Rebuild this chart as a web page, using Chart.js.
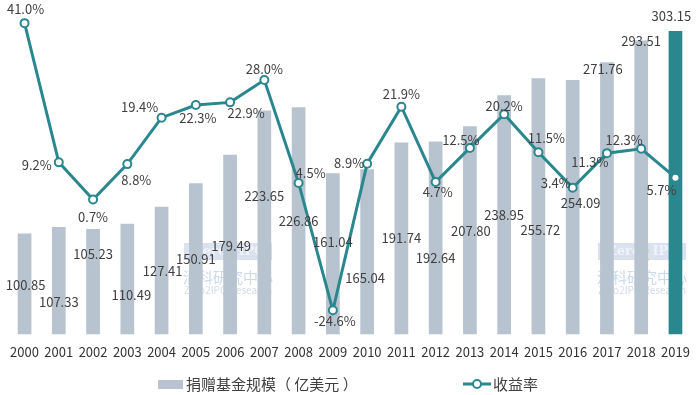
<!DOCTYPE html>
<html>
<head>
<meta charset="utf-8">
<script src="https://cdn.jsdelivr.net/npm/chart.js@4.4.1/dist/chart.umd.min.js"></script>
<style>
  html, body { margin: 0; padding: 0; background: #fff; }
</style>
</head>
<body>
<canvas id="endowChart" width="700" height="395"></canvas>
<script>
const years = ["2000", "2001", "2002", "2003", "2004", "2005", "2006", "2007", "2008", "2009",
  "2010", "2011", "2012", "2013", "2014", "2015", "2016", "2017", "2018", "2019"];

const fundSize = [100.85, 107.33, 105.23, 110.49, 127.41, 150.91, 179.49, 223.65, 226.86, 161.04,
  165.04, 191.74, 192.64, 207.80, 238.95, 255.72, 254.09, 271.76, 293.51, 303.15];

const returnRate = [41.0, 9.2, 0.7, 8.8, 19.4, 22.3, 22.9, 28.0, 4.5, -24.6,
  8.9, 21.9, 4.7, 12.5, 20.2, 11.5, 3.4, 11.3, 12.3, 5.7];

// where the bar value labels sit (in bar-axis units) - they are scattered in the original
const barLabelAt = [49, 32, 80, 39, 63, 75, 88, 138, 113, 92,
  56, 96, 76, 103, 119, 104, 131, 265, 293, 318];
const barLabelDx = [1, 0, 0, 4, 1, 0, 1, 0, 0, 0, -2, 0, 0, 1, 0, 2, 8, -4, 0, -4];

// offsets of the percentage labels from their points
const rateLabelDx = [1, -22, 0, 9, -22, 2, 16, 0, 12, 2, -18, 0, 2, -9, 0, 8, -17, -17, -17, -14];
const rateLabelDy = [-14, 3, 18, 16, -11, 13, 11, -11, -10, 11, -1, -13, 10, -8, -8, -14, -5, 9, -9, 12];

const barGrey = "#b8c3d0";
const teal = "#2a878e";
const textColor = "#404040";
const fontFamily = "'Noto Sans CJK SC', 'Noto Sans', sans-serif";

const barColours = years.map((y, i) => (i === years.length - 1 ? teal : barGrey));

const watermark = {
  id: "watermark",
  beforeDatasetsDraw(chart) {
    const ctx = chart.ctx;
    ctx.save();
    [228, 642].forEach((cx) => {
      ctx.textAlign = "center";
      ctx.textBaseline = "middle";
      ctx.fillStyle = "rgba(150,170,210,0.35)";
      ctx.fillRect(cx - 44, 243, 88, 17);
      ctx.fillStyle = "rgba(255,255,255,0.6)";
      ctx.font = "bold 13px 'DejaVu Serif', serif";
      ctx.fillText("Zero", cx - 18, 252);
      ctx.fillText("IPO", cx + 24, 252);
      ctx.fillStyle = "rgba(225,195,110,0.45)";
      ctx.font = "bold 20px 'DejaVu Sans', sans-serif";
      ctx.fillText("2", cx + 2, 256);
      ctx.fillStyle = "rgba(140,170,215,0.45)";
      ctx.font = "15px " + fontFamily;
      ctx.fillText("清科研究中心", cx, 277);
      ctx.fillStyle = "rgba(160,175,200,0.45)";
      ctx.font = "10px " + fontFamily;
      ctx.fillText("Zero2IPO Research", cx, 290);
    });
    ctx.restore();
  },
};

const valueLabels = {
  id: "valueLabels",
  afterDatasetsDraw(chart) {
    const ctx = chart.ctx;
    const x = chart.scales.x;
    const y = chart.scales.y;
    const linePoints = chart.getDatasetMeta(1).data;
    ctx.save();
    ctx.font = "13px " + fontFamily;
    ctx.fillStyle = textColor;
    ctx.textAlign = "center";
    ctx.textBaseline = "middle";

    fundSize.forEach((v, i) => {
      ctx.fillText(v.toFixed(2), x.getPixelForValue(i) + barLabelDx[i], y.getPixelForValue(barLabelAt[i]));
    });

    returnRate.forEach((v, i) => {
      const p = linePoints[i];
      ctx.fillText(v.toFixed(1) + "%", p.x + rateLabelDx[i], p.y + rateLabelDy[i]);
    });
    ctx.restore();
  },
};

const bottomLegend = {
  id: "bottomLegend",
  afterDraw(chart) {
    const ctx = chart.ctx;
    const ds = chart.data.datasets;
    const cy = 384;
    ctx.save();
    ctx.font = "15px " + fontFamily;
    ctx.fillStyle = textColor;
    ctx.textBaseline = "middle";
    ctx.textAlign = "left";

    ctx.fillStyle = barGrey;
    ctx.fillRect(158, cy - 4, 25, 9);
    ctx.fillStyle = textColor;
    ctx.fillText(ds[0].label, 186, cy);

    ctx.strokeStyle = teal;
    ctx.lineWidth = 3;
    ctx.beginPath();
    ctx.moveTo(463, cy);
    ctx.lineTo(491, cy);
    ctx.stroke();
    ctx.beginPath();
    ctx.arc(477, cy, 4, 0, Math.PI * 2);
    ctx.fillStyle = "#fff";
    ctx.fill();
    ctx.lineWidth = 2;
    ctx.stroke();
    ctx.fillStyle = textColor;
    ctx.fillText(ds[1].label, 493, cy);
    ctx.restore();
  },
};

const ctx = document.querySelector("#endowChart").getContext("2d");

const endowChart = new Chart(ctx, {
  data: {
    labels: years,
    datasets: [
      {
        type: "bar",
        label: "捐赠基金规模（ 亿美元 ）",
        data: fundSize,
        backgroundColor: barColours,
        barPercentage: 0.4,
        categoryPercentage: 1.0,
        yAxisID: "y",
        order: 2,
      },
      {
        type: "line",
        label: "收益率",
        data: returnRate,
        borderColor: teal,
        borderWidth: 3,
        pointRadius: 4,
        pointBorderWidth: 2,
        pointBackgroundColor: "#fff",
        pointBorderColor: teal,
        tension: 0,
        yAxisID: "y2",
        order: 1,
      },
    ],
  },
  options: {
    responsive: false,
    animation: false,
    devicePixelRatio: 1,
    layout: {
      padding: { top: 10, bottom: 25, left: 4, right: 2 },
    },
    plugins: {
      legend: { display: false },
      tooltip: { enabled: false },
    },
    scales: {
      x: {
        grid: { display: false, drawTicks: false },
        border: { display: false },
        ticks: {
          padding: 10,
          color: "#333",
          font: { size: 13, family: fontFamily },
          maxRotation: 0,
          autoSkip: false,
        },
      },
      y: {
        display: false,
        min: 0,
        max: 324,
      },
      y2: {
        display: false,
        min: -30.1,
        max: 44,
      },
    },
  },
  plugins: [watermark, valueLabels, bottomLegend],
});
</script>
</body>
</html>
